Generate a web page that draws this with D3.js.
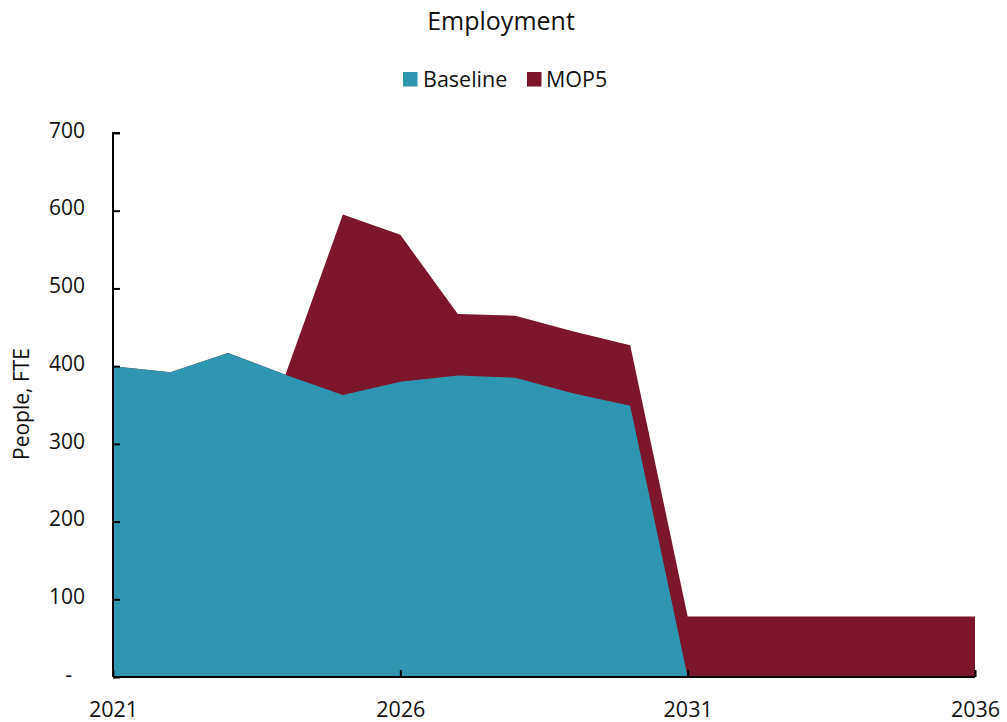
<!DOCTYPE html>
<html><head><meta charset="utf-8">
<script src="https://cdn.jsdelivr.net/npm/d3@7"></script>
<style>body{margin:0;background:#fff;} text{font-family:"Open Sans","Noto Sans",sans-serif;fill:#111;}</style>
</head><body>
<svg id="c" width="1007" height="722"></svg>
<script>
const years = [2021,2022,2023,2024,2025,2026,2027,2028,2029,2030,2031,2032,2033,2034,2035,2036];
const baseline = [400,392,417,389,363,380,388,385,365,349,0,0,0,0,0,0];
const mop5 = [400,392,417,389,595,569,467,465,445,427,78,78,78,78,78,78];
const seriesNames = ["Baseline","MOP5"];
const seriesColors = ["#2E96B0","#7B162C"];
const xTicks = [2021,2026,2031,2036];
const yTicks = [0,100,200,300,400,500,600,700];

const svg = d3.select("#c");
const L=113, R=975, T=133, B=677;
const x = d3.scaleLinear().domain([2021,2036]).range([L,R]);
const y = d3.scaleLinear().domain([0,700]).range([B,T]);

const area = vals => d3.area().x((d,i)=>x(years[i])).y0(y(0)).y1(d=>y(d))(vals);
svg.append("path").attr("d",area(mop5)).attr("fill",seriesColors[1]);
svg.append("path").attr("d",area(baseline)).attr("fill",seriesColors[0]);

// y axis
const ya = svg.append("g").attr("transform",`translate(${L},0)`)
  .call(d3.axisRight(y).tickValues(yTicks).tickSize(7).tickFormat(d=>d===0?"-":d));
ya.select(".domain").attr("d",`M7,${T}H0V${B}`).attr("stroke","#000").attr("stroke-width",2);
ya.selectAll(".tick line").attr("stroke","#000").attr("stroke-width",2);
ya.selectAll(".tick text").attr("x",-28).attr("dy","0.2em").attr("text-anchor","end").style("font-size","21px").attr("fill","#111");
ya.selectAll(".tick text").filter(d=>d===0).attr("x",-41);

// x axis
const xa = svg.append("g").attr("transform",`translate(0,${B})`)
  .call(d3.axisTop(x).tickValues(xTicks).tickSize(7).tickFormat(d3.format("d")));
xa.select(".domain").attr("d",`M${L},0H${R}`).attr("stroke","#000").attr("stroke-width",2);
xa.selectAll(".tick line").attr("stroke","#000").attr("stroke-width",2);
xa.selectAll(".tick text").attr("y",40).attr("dy",null).style("font-size","21.5px").attr("fill","#111");
xa.selectAll("text").attr("font-family",null);
ya.selectAll("text").attr("font-family",null);

// title
svg.append("text").attr("x",501).attr("y",30).attr("text-anchor","middle").style("font-size","25px").text("Employment");

// legend
const leg = [{x:403,tx:423},{x:527,tx:546}];
seriesNames.forEach((n,i)=>{
  svg.append("rect").attr("x",leg[i].x).attr("y",72).attr("width",14.5).attr("height",14.5).attr("fill",seriesColors[i]);
  svg.append("text").attr("x",leg[i].tx).attr("y",87).style("font-size","21.5px").text(n);
});

// y label
svg.append("text").attr("transform","translate(29,404) rotate(-90)").attr("text-anchor","middle").style("font-size","21px").text("People, FTE");
</script>
</body></html>
